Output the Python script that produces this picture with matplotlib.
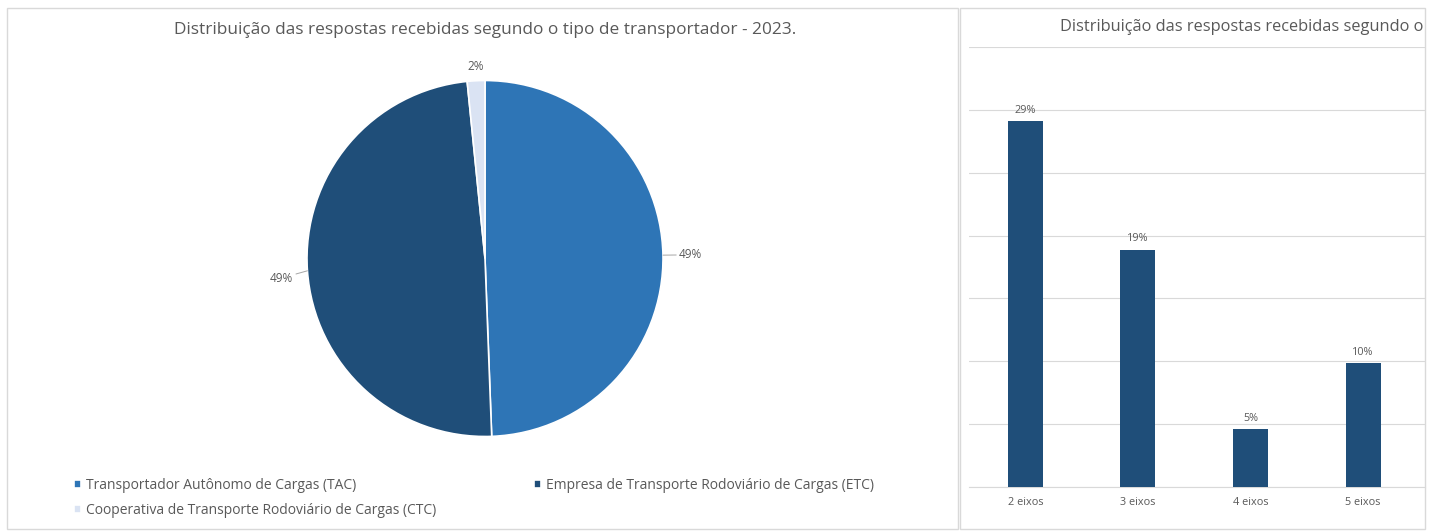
import matplotlib
matplotlib.use("Agg")
import matplotlib.pyplot as plt
from matplotlib.patches import Rectangle
import numpy as np

# ---------------- data ----------------
pie_title = "Distribuição das respostas recebidas segundo o tipo de transportador - 2023."
pie_labels = ["Transportador Autônomo de Cargas (TAC)",
              "Empresa de Transporte Rodoviário de Cargas (ETC)",
              "Cooperativa de Transporte Rodoviário de Cargas (CTC)"]
pie_values = [49.4, 49.0, 1.6]
pie_texts = ["49%", "49%", "2%"]
pie_colors = ["#2E75B6", "#1F4E79", "#DAE3F3"]

bar_title = "Distribuição das respostas recebidas segundo o"
bar_categories = ["2 eixos", "3 eixos", "4 eixos", "5 eixos"]
bar_values = [29.1, 18.85, 4.6, 9.85]
bar_texts = ["29%", "19%", "5%", "10%"]
bar_color = "#1F4E79"

plt.rcParams['font.family'] = ['Open Sans', 'DejaVu Sans']
TXT = "#595959"

W, H = 1442, 531
fig = plt.figure(figsize=(W / 100, H / 100), dpi=100)

def fx(x):
    return x / W

def fy(y):
    return 1 - y / H

# panel frames
fig.patches.append(Rectangle((fx(7), fy(529)), fx(958) - fx(7), fy(8) - fy(529),
                             transform=fig.transFigure, fill=False,
                             edgecolor="#D9D9D9", linewidth=1.0))
fig.patches.append(Rectangle((fx(960), fy(529)), fx(1425) - fx(960), fy(8) - fy(529),
                             transform=fig.transFigure, fill=False,
                             edgecolor="#D9D9D9", linewidth=1.0))

# ---------------- pie ----------------
cx, cy, R = 485, 258.5, 178
axp = fig.add_axes([fx(cx - R), fy(cy + R), 2 * R / W, 2 * R / H])
wedges, _ = axp.pie(pie_values, colors=pie_colors, startangle=90, counterclock=False,
                    wedgeprops=dict(edgecolor="white", linewidth=1.2))
axp.set_xlim(-1, 1)
axp.set_ylim(-1, 1)
axp.set_aspect("auto")
axp.axis("off")

label_cfg = [(1.09, 0.0, True), (1.08, -0.035, True), (1.08, 0.0, False)]
for w, t, (dist, dy, leader) in zip(wedges, pie_texts, label_cfg):
    ang = np.deg2rad((w.theta1 + w.theta2) / 2)
    x, y = np.cos(ang), np.sin(ang)
    tx, ty = dist * x, dist * y + dy
    if leader:
        sign = 1 if x > 0 else -1
        axp.annotate(t, xy=(x, y), xytext=(tx, ty), ha="left" if sign > 0 else "right",
                     va="center", fontsize=8.5, color=TXT,
                     arrowprops=dict(arrowstyle="-", color="#A6A6A6", lw=0.7,
                                     shrinkA=0, shrinkB=0))
    else:
        axp.text(tx, ty, t, ha="center", va="center", fontsize=8.5, color=TXT)

fig.text(fx(485), fy(30), pie_title, ha="center", va="center", fontsize=12.4, color=TXT)

order = [0, 2, 1]
leg = fig.legend([wedges[i] for i in order], [pie_labels[i] for i in order],
                 ncol=2, loc="upper left", bbox_to_anchor=(fx(74), fy(478)),
                 frameon=False, fontsize=10, handlelength=0.5, handleheight=0.5,
                 handletextpad=0.4, columnspacing=7.0, labelspacing=0.72,
                 labelcolor=TXT, borderaxespad=0, borderpad=0)

# ---------------- bars ----------------
axb = fig.add_axes([fx(969), fy(487), fx(1425) - fx(969), fy(47) - fy(487)])
xpos = np.arange(len(bar_categories))
bars = axb.bar(xpos, bar_values, width=0.31, color=bar_color, zorder=3)
axb.set_xlim(-0.5, 3.55)
axb.set_ylim(0, 35)
axb.set_yticks(np.arange(0, 36, 5))
axb.yaxis.grid(True, color="#D9D9D9", linewidth=0.8, zorder=0)
axb.tick_params(axis="y", left=False, labelleft=False)
axb.set_xticks(xpos)
axb.set_xticklabels(bar_categories, fontsize=7.8, color=TXT)
axb.tick_params(axis="x", length=0, pad=7.5)
for s in ["top", "right", "left"]:
    axb.spines[s].set_visible(False)
axb.spines["bottom"].set_color("#D9D9D9")
for b, t in zip(bars, bar_texts):
    axb.annotate(t, xy=(b.get_x() + b.get_width() / 2, b.get_height()),
                 xytext=(0, 4), textcoords="offset points", ha="center", va="bottom",
                 fontsize=7.8, color=TXT)

fig.text(fx(1060), fy(27), bar_title, ha="left", va="center", fontsize=11.8, color=TXT)

fig.savefig("out.png", dpi=100, facecolor="white")
